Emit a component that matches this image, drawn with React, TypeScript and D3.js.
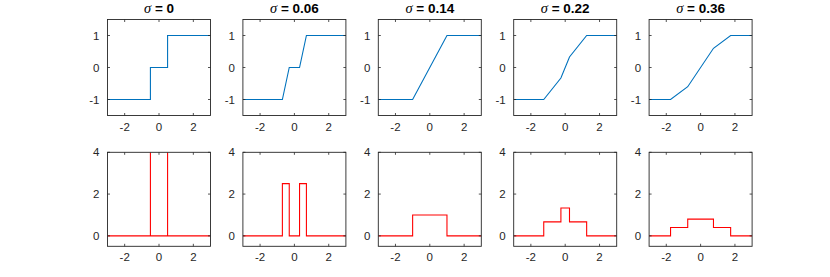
import React from 'react';
import * as d3 from 'd3';

// sigma values shown in the titles
const sigmaLabels = ['0', '0.06', '0.14', '0.22', '0.36'];

// top row: piecewise-linear transfer curves
const cdfX = [
  [-3, -0.5, -0.5, 0.5, 0.5, 3],
  [-3, -0.7, -0.3, 0.3, 0.7, 3],
  [-3, -1, 1, 3],
  [-3, -1.25, -0.25, 0.25, 1.25, 3],
  [-3, -1.75, -0.75, 0.75, 1.75, 3],
];
const cdfY = [
  [-1, -1, 0, 0, 1, 1],
  [-1, -1, 0, 0, 1, 1],
  [-1, -1, 1, 1],
  [-1, -1, -0.33, 0.33, 1, 1],
  [-1, -1, -0.6, 0.6, 1, 1],
];

// bottom row: derivatives (step functions)
const pdfX = [
  [-3, -0.5, -0.5, -0.5, 0.5, 0.5, 0.5, 3],
  [-3, -0.7, -0.7, -0.3, -0.3, 0.3, 0.3, 0.7, 0.7, 3],
  [-3, -1, -1, 1, 1, 3],
  [-3, -1.25, -1.25, -0.25, -0.25, 0.25, 0.25, 1.25, 1.25, 3],
  [-3, -1.75, -1.75, -0.75, -0.75, 0.75, 0.75, 1.75, 1.75, 3],
];
const pdfY = [
  [0, 0, 4, 0, 0, 4, 0, 0],
  [0, 0, 2.5, 2.5, 0, 0, 2.5, 2.5, 0, 0],
  [0, 0, 1, 1, 0, 0],
  [0, 0, 0.67, 0.67, 1.33, 1.33, 0.67, 0.67, 0, 0],
  [0, 0, 0.4, 0.4, 0.8, 0.8, 0.4, 0.4, 0, 0],
];

const xTicks = [-2, 0, 2];
const topYTicks = [-1, 0, 1];
const bottomYTicks = [0, 2, 4];

const W = 830;
const H = 277;
const left0 = 107.5;
const step = 135.4;
const panelW = 103;
const rows = [
  { top: 19.5, bottom: 115.5, domain: [-1.5, 1.5], ticks: topYTicks },
  { top: 152.3, bottom: 246.3, domain: [-0.5, 4], ticks: bottomYTicks },
];
const axisColor = '#262626';
const font = 'Liberation Sans, Arial, Helvetica, sans-serif';

function Panel({ col, row, xs, ys, color, title }: any) {
  const r = rows[row];
  const x0 = left0 + col * step;
  const x = d3.scaleLinear().domain([-3, 3]).range([x0, x0 + panelW]);
  const y = d3.scaleLinear().domain(r.domain).range([r.bottom, r.top]);
  const pts: [number, number][] = xs.map((v: number, i: number) => [v, ys[i]]);
  const line = d3
    .line<[number, number]>()
    .x((d) => x(d[0]))
    .y((d) => y(d[1]));
  const tl = 2.5;
  const clipId = `clip-${row}-${col}`;
  return (
    <g>
      <clipPath id={clipId}>
        <rect x={x0} y={r.top} width={panelW} height={r.bottom - r.top} />
      </clipPath>
      <path
        d={line(pts) || ''}
        fill="none"
        stroke={color}
        strokeWidth={1.1}
        clipPath={`url(#${clipId})`}
      />
      <rect
        x={x0}
        y={r.top}
        width={panelW}
        height={r.bottom - r.top}
        fill="none"
        stroke={axisColor}
        strokeWidth={0.9}
      />
      {xTicks.map((t) => (
        <g key={'x' + t}>
          <line x1={x(t)} x2={x(t)} y1={r.bottom} y2={r.bottom - tl} stroke={axisColor} strokeWidth={0.8} />
          <line x1={x(t)} x2={x(t)} y1={r.top} y2={r.top + tl} stroke={axisColor} strokeWidth={0.8} />
          <text
            x={x(t)}
            y={r.bottom + 15}
            textAnchor="middle"
            fontSize={11.5}
            fontFamily={font}
            fill={axisColor}
          >
            {t}
          </text>
        </g>
      ))}
      {r.ticks.map((t) => (
        <g key={'y' + t}>
          <line x1={x0} x2={x0 + tl} y1={y(t)} y2={y(t)} stroke={axisColor} strokeWidth={0.8} />
          <line x1={x0 + panelW} x2={x0 + panelW - tl} y1={y(t)} y2={y(t)} stroke={axisColor} strokeWidth={0.8} />
          <text
            x={x0 - 8}
            y={y(t) + 4}
            textAnchor="end"
            fontSize={11.5}
            fontFamily={font}
            fill={axisColor}
          >
            {t}
          </text>
        </g>
      ))}
      {title && (
        <text x={x0 + panelW / 2} y={13} textAnchor="middle" fontSize={13.5} fill="#000">
          <tspan fontFamily="Liberation Serif, Times New Roman, serif" fontStyle="italic" fontSize={14.5}>
            σ
          </tspan>
          <tspan fontFamily={font} fontWeight="bold">
            {'  = ' + title}
          </tspan>
        </text>
      )}
    </g>
  );
}

export default function App() {
  return (
    <svg
      width={W}
      height={H}
      style={{ position: 'absolute', left: 0, top: 0, background: '#fff' }}
    >
      <rect width={W} height={H} fill="#fff" />
      {sigmaLabels.map((s, i) => (
        <g key={s}>
          <Panel col={i} row={0} xs={cdfX[i]} ys={cdfY[i]} color="#0072BD" title={s} />
          <Panel col={i} row={1} xs={pdfX[i]} ys={pdfY[i]} color="#FF0000" />
        </g>
      ))}
    </svg>
  );
}
